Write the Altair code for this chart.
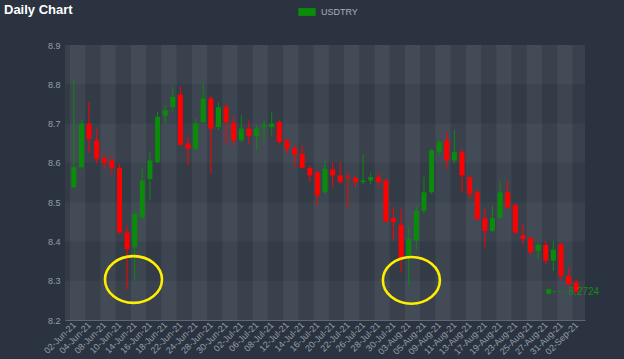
import altair as alt
import pandas as pd

dates = [
    "02-Jun-21", "03-Jun-21", "04-Jun-21", "07-Jun-21", "08-Jun-21", "09-Jun-21", "10-Jun-21", "11-Jun-21",
    "14-Jun-21", "15-Jun-21", "16-Jun-21", "17-Jun-21", "18-Jun-21", "21-Jun-21", "22-Jun-21", "23-Jun-21",
    "24-Jun-21", "25-Jun-21", "28-Jun-21", "29-Jun-21", "30-Jun-21",
    "01-Jul-21", "02-Jul-21", "05-Jul-21", "06-Jul-21", "07-Jul-21", "08-Jul-21", "09-Jul-21", "12-Jul-21",
    "13-Jul-21", "14-Jul-21", "15-Jul-21", "16-Jul-21", "19-Jul-21", "20-Jul-21", "21-Jul-21", "22-Jul-21",
    "23-Jul-21", "26-Jul-21", "27-Jul-21", "28-Jul-21", "29-Jul-21", "30-Jul-21",
    "02-Aug-21", "03-Aug-21", "04-Aug-21", "05-Aug-21", "06-Aug-21", "09-Aug-21", "10-Aug-21", "11-Aug-21",
    "12-Aug-21", "13-Aug-21", "16-Aug-21", "17-Aug-21", "18-Aug-21", "19-Aug-21", "20-Aug-21", "23-Aug-21",
    "24-Aug-21", "25-Aug-21", "26-Aug-21", "27-Aug-21", "30-Aug-21", "31-Aug-21",
    "01-Sep-21", "02-Sep-21",
]

opens = [8.538, 8.589, 8.700, 8.657, 8.612, 8.606, 8.587, 8.423, 8.385, 8.461, 8.559, 8.602, 8.720, 8.742,
         8.774, 8.649, 8.636, 8.704, 8.764, 8.691, 8.742, 8.702, 8.657, 8.687, 8.668, 8.692, 8.691, 8.704,
         8.657, 8.638, 8.623, 8.587, 8.576, 8.525, 8.583, 8.568, 8.564, 8.561, 8.551, 8.555, 8.564, 8.555,
         8.459, 8.442, 8.359, 8.402, 8.478, 8.525, 8.627, 8.657, 8.606, 8.627, 8.564, 8.525, 8.459, 8.427,
         8.461, 8.525, 8.493, 8.416, 8.408, 8.376, 8.391, 8.351, 8.393, 8.312, 8.295]
highs = [8.811, 8.710, 8.755, 8.687, 8.627, 8.619, 8.598, 8.440, 8.478, 8.585, 8.627, 8.730, 8.747, 8.794,
         8.794, 8.666, 8.713, 8.802, 8.772, 8.755, 8.751, 8.717, 8.721, 8.708, 8.696, 8.708, 8.730, 8.708,
         8.661, 8.644, 8.644, 8.593, 8.581, 8.606, 8.602, 8.602, 8.576, 8.568, 8.623, 8.576, 8.576, 8.559,
         8.487, 8.483, 8.440, 8.491, 8.564, 8.636, 8.661, 8.679, 8.683, 8.636, 8.564, 8.534, 8.483, 8.491,
         8.555, 8.555, 8.495, 8.444, 8.414, 8.397, 8.402, 8.402, 8.397, 8.334, 8.304]
lows = [8.534, 8.585, 8.627, 8.598, 8.585, 8.568, 8.419, 8.278, 8.300, 8.456, 8.504, 8.598, 8.700, 8.730,
        8.644, 8.593, 8.632, 8.696, 8.572, 8.683, 8.649, 8.644, 8.653, 8.649, 8.632, 8.653, 8.670, 8.649,
        8.623, 8.589, 8.585, 8.551, 8.491, 8.521, 8.538, 8.546, 8.487, 8.538, 8.546, 8.546, 8.538, 8.449,
        8.402, 8.321, 8.287, 8.380, 8.470, 8.521, 8.619, 8.585, 8.598, 8.525, 8.508, 8.453, 8.385, 8.423,
        8.457, 8.483, 8.419, 8.393, 8.368, 8.355, 8.342, 8.325, 8.300, 8.287, 8.270]
closes = [8.589, 8.700, 8.661, 8.610, 8.600, 8.587, 8.423, 8.380, 8.470, 8.555, 8.606, 8.717, 8.734, 8.768,
          8.646, 8.636, 8.700, 8.764, 8.687, 8.742, 8.704, 8.657, 8.687, 8.668, 8.687, 8.696, 8.700, 8.653,
          8.636, 8.621, 8.587, 8.568, 8.517, 8.585, 8.568, 8.552, 8.561, 8.551, 8.555, 8.564, 8.551, 8.450,
          8.449, 8.355, 8.406, 8.478, 8.525, 8.632, 8.653, 8.606, 8.627, 8.568, 8.521, 8.457, 8.427, 8.459,
          8.525, 8.487, 8.423, 8.406, 8.372, 8.391, 8.351, 8.379, 8.312, 8.291, 8.2724]

y_ticks = [8.2, 8.3, 8.4, 8.5, 8.6, 8.7, 8.8, 8.9]
series_name = "USDTRY"
last_label = "8.2724"
chart_title = "Daily Chart"

# annotation anchors (ellipses drawn on the chart, in data units)
ellipse_x = [7.84, 44.35]
ellipse_y = [8.303, 8.301]

GREEN = "#0a8c0a"
RED = "#ff0000"
LABEL = "#959ea9"
FONT = "Liberation Sans"

n = len(dates)
df = pd.DataFrame({"i": list(range(n)), "date": dates, "open": opens, "high": highs,
                   "low": lows, "close": closes})

xscale = alt.Scale(domain=[-0.5, n - 0.5], nice=False, zero=False)
yscale = alt.Scale(domain=[y_ticks[0], y_ticks[-1]], nice=False, zero=False)

label_expr = "[" + ",".join("'" + d + "'" for d in dates) + "][datum.value]"

xaxis = alt.Axis(values=list(range(0, n, 2)), labelExpr=label_expr, title=None, grid=False,
                 ticks=False, domain=True, domainColor="#5d6672", labelAngle=-45, labelAlign="right",
                 labelBaseline="middle", labelPadding=3, labelColor=LABEL, labelFontSize=9,
                 labelFont=FONT, labelOverlap=False, labelFlush=False)
yaxis = alt.Axis(values=y_ticks, format=".1f", title=None, grid=False, ticks=False, domain=False,
                 labelColor=LABEL, labelFontSize=9, labelFont=FONT, labelPadding=5)

# background bands
nb = (n + 1) // 2
vb = pd.DataFrame({"x": [2 * k - 0.5 for k in range(nb)],
                   "x2": [min(2 * k + 1.5, n - 0.5) for k in range(nb)],
                   "light": [k % 2 == 0 for k in range(nb)]})
vb = vb[vb["light"]]
hb = pd.DataFrame({"y": y_ticks[0:-1:2], "y2": y_ticks[1::2]})

vbands = alt.Chart(vb).mark_rect(color="#ffffff", opacity=0.05).encode(
    x=alt.X("x:Q", scale=xscale, axis=xaxis), x2="x2:Q",
    y=alt.value(0), y2=alt.value(275))
hbands = alt.Chart(hb).mark_rect(color="#ffffff", opacity=0.035).encode(
    y=alt.Y("y:Q", scale=yscale, axis=yaxis), y2="y2:Q",
    x=alt.value(0), x2=alt.value(520))

color_cond = alt.condition("datum.close >= datum.open", alt.value(GREEN), alt.value(RED))
base = alt.Chart(df)
wicks = base.mark_rule(strokeWidth=1).encode(
    x=alt.X("i:Q", scale=xscale, axis=xaxis),
    y=alt.Y("low:Q", scale=yscale, axis=yaxis), y2="high:Q",
    color=color_cond)
bodies = base.mark_bar(size=5).encode(
    x=alt.X("i:Q", scale=xscale, axis=xaxis),
    y=alt.Y("open:Q", scale=yscale, axis=yaxis), y2="close:Q",
    color=color_cond)

ell = pd.DataFrame({"x": ellipse_x, "y": ellipse_y})
ellipses = alt.Chart(ell).mark_point(
    shape="M-1,0A1,0.82,0,1,1,1,0A1,0.82,0,1,1,-1,0Z", size=3250, filled=False,
    strokeWidth=2.6, color="#ffee00", opacity=1).encode(
    x=alt.X("x:Q", scale=xscale, axis=xaxis),
    y=alt.Y("y:Q", scale=yscale, axis=yaxis))

tag = pd.DataFrame({"s": [series_name], "x": [n - 4.6], "xa": [n - 4.1], "xb": [n - 2.4],
                    "xt": [n - 2.0], "y": [closes[-1]], "t": [last_label]})
tag_dot = alt.Chart(tag).mark_point(filled=True, size=30, opacity=1).encode(
    x=alt.X("x:Q", scale=xscale, axis=xaxis),
    y=alt.Y("y:Q", scale=yscale, axis=yaxis),
    color=alt.Color("s:N", scale=alt.Scale(domain=[series_name], range=[GREEN]),
                    legend=alt.Legend(orient="none", legendX=233, legendY=-42, title=None,
                                      symbolType="M-1,-0.45H1V0.45H-1Z", symbolSize=300,
                                      symbolStrokeWidth=0, symbolOpacity=1,
                                      labelColor="#aab0b8", labelFontSize=9, labelFont=FONT,
                                      labelOffset=5)))
tag_line = alt.Chart(tag).mark_rule(strokeDash=[3, 3], strokeWidth=1, color=GREEN).encode(
    x=alt.X("xa:Q", scale=xscale, axis=xaxis), x2="xb:Q",
    y=alt.Y("y:Q", scale=yscale, axis=yaxis))
tag_text = alt.Chart(tag).mark_text(align="left", baseline="middle", fontSize=10, font=FONT,
                                    color="#168a16").encode(
    x=alt.X("xt:Q", scale=xscale, axis=xaxis),
    y=alt.Y("y:Q", scale=yscale, axis=yaxis), text="t:N")

title_text = alt.Chart(pd.DataFrame({"t": [chart_title]})).mark_text(
    align="left", baseline="top", fontSize=13, font=FONT, fontWeight="bold", color="#ffffff").encode(
    x=alt.value(-61), y=alt.value(-41), text="t:N")

chart = alt.layer(vbands, hbands, wicks, bodies, ellipses, tag_line, tag_dot, tag_text,
                  title_text).properties(
    width=520, height=275,
    autosize=alt.AutoSizeParams(type="none"),
    padding={"left": 65, "top": 45, "right": 39, "bottom": 39},
    background="#2b3340",
).configure_view(fill="#333b47", stroke=None)

chart.save("out.html", embed_options={"renderer": "svg", "actions": False})
